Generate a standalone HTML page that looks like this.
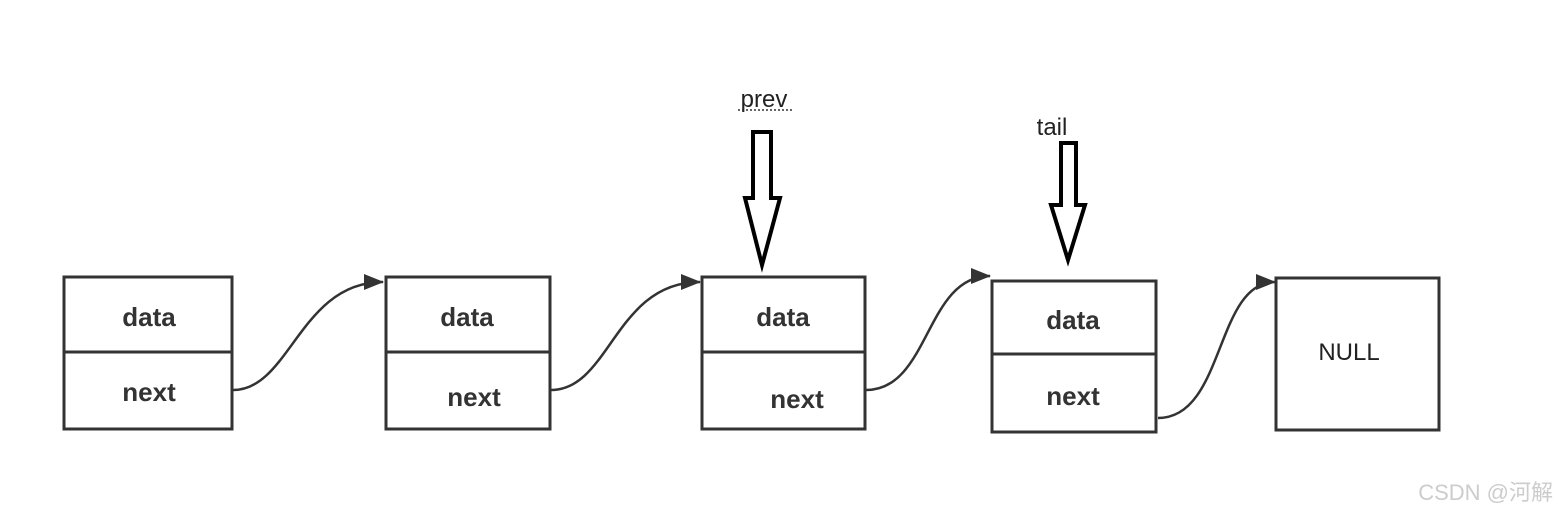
<!DOCTYPE html>
<html><head><meta charset="utf-8"><style>
html,body{margin:0;padding:0;background:#fff;}
svg{display:block;}
.t{font-family:"Liberation Sans","Noto Sans CJK SC",sans-serif;font-weight:bold;font-size:26px;fill:#333;}
.l{font-family:"Liberation Sans","Noto Sans CJK SC",sans-serif;font-size:24px;fill:#222;}
</style></head><body>
<svg width="1560" height="519" viewBox="0 0 1560 519" xmlns="http://www.w3.org/2000/svg">
<defs><marker id="a" markerWidth="10" markerHeight="10" refX="9" refY="5" orient="auto" markerUnits="userSpaceOnUse" viewBox="0 0 10 10"><path d="M0,0 L10,5 L0,10 z" fill="#333" transform="scale(1)"/></marker>
<marker id="b" markerWidth="20" markerHeight="16" refX="19" refY="8" orient="auto" markerUnits="userSpaceOnUse"><path d="M0,0 L20,8 L0,16 z" fill="#333"/></marker></defs>
<g fill="none" stroke="#333" stroke-width="3">
<rect x="64" y="277" width="168" height="152"/><line x1="64" y1="352" x2="232" y2="352"/>
<rect x="386" y="277" width="164" height="152"/><line x1="386" y1="352" x2="550" y2="352"/>
<rect x="702" y="277" width="163" height="152"/><line x1="702" y1="352" x2="865" y2="352"/>
<rect x="992" y="281" width="164" height="151"/><line x1="992" y1="354" x2="1156" y2="354"/>
<rect x="1276" y="278" width="163" height="152"/>
</g>
<g fill="none" stroke="#333" stroke-width="2.5">
<path d="M233,390 C290,390 300,282 383,282" marker-end="url(#b)"/>
<path d="M551,390 C610,390 615,282 700,282" marker-end="url(#b)"/>
<path d="M866,390 C930,390 925,276 990,276" marker-end="url(#b)"/>
<path d="M1158,418 C1225,418 1215,282 1275,282" marker-end="url(#b)"/>
</g>
<g fill="#fff" stroke="#000" stroke-width="4" stroke-linejoin="miter">
<path d="M753,132 L771,132 L771,198 L780,198 L762,265 L745,198 L753,198 Z"/>
<path d="M1061,143 L1076,143 L1076,205 L1085,205 L1068,260 L1051,205 L1061,205 Z"/>
</g>
<text class="t" x="149" y="326" text-anchor="middle">data</text>
<text class="t" x="149" y="401" text-anchor="middle">next</text>
<text class="t" x="467" y="326" text-anchor="middle">data</text>
<text class="t" x="474" y="406" text-anchor="middle">next</text>
<text class="t" x="783" y="326" text-anchor="middle">data</text>
<text class="t" x="797" y="408" text-anchor="middle">next</text>
<text class="t" x="1073" y="329" text-anchor="middle">data</text>
<text class="t" x="1073" y="405" text-anchor="middle">next</text>
<text class="l" x="1349" y="360" text-anchor="middle">NULL</text>
<text class="l" x="764" y="107" text-anchor="middle">prev</text>
<line x1="738" y1="110" x2="792" y2="110" stroke="#333" stroke-width="1.5" stroke-dasharray="2,2"/>
<text class="l" x="1052" y="135" text-anchor="middle">tail</text>
<text x="1553" y="500" text-anchor="end" style="font-family:'Liberation Sans','Noto Sans CJK SC',sans-serif;font-size:22px;fill:#ccc;">CSDN @河解</text>
</svg>
</body></html>
